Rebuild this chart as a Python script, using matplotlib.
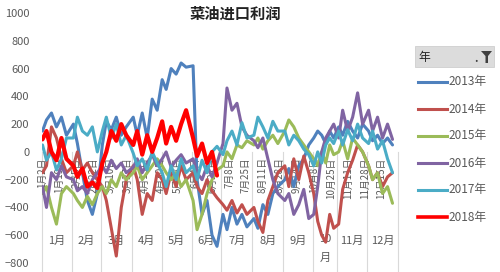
import matplotlib
matplotlib.use("Agg")
import matplotlib.pyplot as plt
from matplotlib.lines import Line2D
from matplotlib.patches import Rectangle, Polygon
import pandas as pd

plt.rcParams['font.family'] = ['Noto Sans CJK SC', 'DejaVu Sans']

title = "菜油进口利润"
legend_title = "年"
years = ["2013年", "2014年", "2015年", "2016年", "2017年", "2018年"]
month_labels = ["1月", "2月", "3月", "4月", "5月", "6月", "7月", "8月", "9月", "10月", "11月", "12月"]

# sampling days (month, day)
sample_days = [(m, d) for m in range(1, 13)
               for d in ([8, 12, 16, 20, 24, 28] if m == 10 else [2, 6, 11, 16, 21, 26])]

v2013 = [150, 230, 280, 180, 250, 120,
         200, 60, -150, -350, -450, -300,
         50, 220, 160, 250, 120, 180,
         250, 120, 280, 100, 380, 300,
         520, 450, 600, 560, 640, 610,
         620, -200, -450, -350, -600, -680,
         -450, -560, -400, -520, -450, -540,
         -480, -550, -380, -450, -300, -250,
         -200, -120, -250, -100, -50, 50,
         100, 150, 120, 60, 150, 100,
         180, 120, 220, 150, 100, 200,
         150, 80, 120, 60, 100, 50]
v2014 = [-150, -100, 180, 100, -50, -150,
         -100, 0, -130, -80, -150, -200,
         -250, -350, -550, -750, -400, -200,
         -100, -200, -450, -300, -350, -150,
         -200, -300, -150, -250, -100, -200,
         -150, -250, -300, -200, -280, -330,
         -380, -420, -350, -440, -380, -450,
         -400, -500, -580, -350, -250, -150,
         -100, -250, -50, -200, -30, -150,
         -300, -500, -600, -650, -450, -550,
         -520, -270, -150, -60, 50, 0,
         -100, -200, -150, -250, -180, -150]
v2015 = [-300, -250, -400, -520, -300, -250,
         -300, -350, -400, -320, -380, -300,
         -250, -300, -200, -250, -150, -200,
         -150, -100, -200, -150, -100, -50,
         -100, -150, -200, -150, -250, -200,
         -350, -560, -450, -300, -200, -130,
         -100, 0, -50, 50, 30, 80,
         50, 100, 20, 80, 120, 60,
         150, 230, 180, 100, 50, 0,
         -50, -100, 0, -80, 50, -20,
         0, 80, -50, 100, 50, 0,
         -100, -200, -150, -300, -250, -370]
v2016 = [-250, -400, -150, -200, -100, -180,
         -200, -280, -250, -300, -200, -150,
         -100, -150, -60, -120, -80, -150,
         -110, -50, -150, -80, -20, -100,
         -50, 0, -110, -60, -20, -80,
         -50, -150, -200, -100, -180, -80,
         60, 460, 300, 350, 180, 120,
         80, 30, 100, -50, -200, -300,
         -350, -300, -450, -380, -270, -480,
         -450, -250, 0, 100, 150, 200,
         100, 300, 150, 250, 425, 200,
         300, 150, 250, 100, 200, 90]
v2017 = [50, -60, 0, -130, -50, 100,
         100, 250, 150, 120, 180, 0,
         150, 250, 100, 200, 50, 120,
         -10, -100, -50, -130, 0, -80,
         -150, -250, -100, -200, -50, -150,
         -100, -200, -60, -150, 0, 40,
         -20, 80, 150, 50, 210, 100,
         120, 250, 180, 100, 220, 150,
         150, 50, 120, 80, 20, -20,
         -100, 0, -80, 50, 100, 60,
         150, 50, 160, 80, 200, 100,
         60, 150, 20, 80, -50, -150]
v2018 = [90, 150, 0, -60, 100, -50,
         -100, -180, -120, -250, -220, -260,
         -80, 0, 150, 80, 200, 120,
         50, 150, -20, 120, 0, 100,
         220, 60, 180, 80, 200, 300,
         100, -30, 60, -80, 0, -170]
series_values = [v2013, v2014, v2015, v2016, v2017, v2018]

colors = ["#4F81BD", "#C0504D", "#9BBB59", "#8064A2", "#4BACC6", "#FF0000"]
widths = [2.2, 2.2, 2.2, 2.2, 2.2, 3.0]

# category axis: calendar days (leap year) without days that have no data in any year
all_days = pd.date_range("2016-01-01", "2016-12-31")
skip = {(1, 1), (5, 1)} | {(10, d) for d in range(1, 8)}
cats = [d for d in all_days if (d.month, d.day) not in skip]
cat_index = {(d.month, d.day): i for i, d in enumerate(cats)}
n = len(cats)

fig = plt.figure(figsize=(5, 2.72), dpi=100)
ax = fig.add_axes([42 / 500, 9 / 272, 356 / 500, 250 / 272])

for vals, col, lw, lab in zip(series_values, colors, widths, years):
    xs = [cat_index[sample_days[i]] for i in range(len(vals))]
    ax.plot(xs, vals, color=col, lw=lw, label=lab, solid_joinstyle='round',
            solid_capstyle='round', zorder=3)

ax.set_xlim(-0.5, n - 0.5)
ax.set_ylim(-800, 1000)
ax.set_yticks(range(-800, 1001, 200))
ax.tick_params(axis='y', length=0, pad=9, labelsize=8, labelcolor="#595959")
ax.set_xticks([])
for s in ax.spines.values():
    s.set_visible(False)

gray = "#595959"
# day labels every 17 categories (drawn beneath the lines)
for i in range(0, n, 17):
    d = cats[i]
    ax.annotate(f"{d.month}月{d.day}日", xy=(i, 0), xytext=(0, -4), textcoords='offset points',
                rotation=90, ha='center', va='top', fontsize=7, color=gray, zorder=1)

# month separators and labels
month_first = [cats.index(next(c for c in cats if c.month == m)) for m in range(1, 13)]
bounds = [b - 0.5 for b in month_first] + [n - 0.5]
for b in bounds:
    ax.plot([b, b], [0, -870], color="#D9D9D9", lw=0.8, clip_on=False, zorder=0)
for m in range(12):
    cx = (bounds[m] + bounds[m + 1]) / 2
    if m == 9:
        ax.text(cx, -630, "10", ha='center', va='center', fontsize=8, color=gray, zorder=1)
        ax.text(cx, -760, "月", ha='center', va='center', fontsize=8, color=gray, zorder=1)
    else:
        ax.text(cx, -640, month_labels[m], ha='center', va='center', fontsize=8, color=gray, zorder=1)

fig.text(235 / 500, 1 - 14 / 272, title, ha='center', va='center', fontsize=11,
         fontweight='bold', color="#222222")

# legend (pivot-chart style)
def fx(px):
    return px / 500
def fy(py):
    return 1 - py / 272

fig.patches.append(Rectangle((fx(415), fy(67)), fx(494) - fx(415), fy(46) - fy(67),
                             transform=fig.transFigure, facecolor="#DCDCDC", edgecolor="#C8C8C8", lw=0.5))
fig.text(fx(418), fy(57), legend_title, ha='left', va='center', fontsize=8.5, color="#222222")
fig.patches.append(Polygon([(fx(481), fy(51)), (fx(492), fy(51)), (fx(488), fy(56)),
                            (fx(488), fy(63)), (fx(485.5), fy(63)), (fx(485.5), fy(56))],
                           closed=True, transform=fig.transFigure, facecolor="#404040", edgecolor='none'))
fig.text(fx(476), fy(59), ".", ha='center', va='center', fontsize=8, color="#404040", fontweight='bold')

for k, (lab, col) in enumerate(zip(years, colors)):
    yy = 82 + k * 27
    fig.lines.append(Line2D([fx(418), fx(447)], [fy(yy), fy(yy)], transform=fig.transFigure,
                            color=col, lw=2.2 if k < 5 else 2.6))
    fig.text(fx(448), fy(yy), lab, ha='left', va='center', fontsize=8.5, color=gray)

fig.savefig("out.png", dpi=100)
